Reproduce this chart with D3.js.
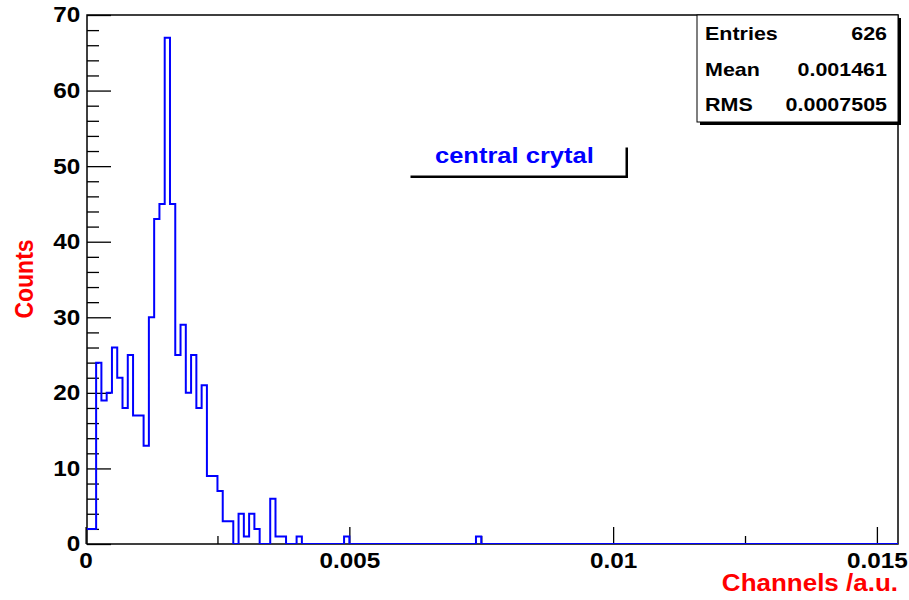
<!DOCTYPE html>
<html>
<head>
<meta charset="utf-8">
<script src="https://cdn.jsdelivr.net/npm/d3@7"></script>
<style>
    html, body { margin: 0; padding: 0; background: #fff; }
    text { font-family: 'Liberation Sans', Arial, Helvetica, sans-serif; font-weight: bold; }
</style>
</head>
<body>
<div id="chart"></div>
<script>
// histogram: bins of width 0.0001 starting at 0, counts
const binStart = 0;
const binWidth = 0.0001;
const counts = [
    2, 2, 24, 19, 20, 26, 22, 18, 25, 17,
    17, 13, 30, 43, 45, 67, 45, 25, 29, 20,
    25, 18, 21, 9, 9, 7, 3, 3, 0, 4,
    1, 4, 2, 0, 0, 6, 1, 1, 0, 0,
    1, 0, 0, 0, 0, 0, 0, 0, 0, 1,
    0, 0, 0, 0, 0, 0, 0, 0, 0, 0,
    0, 0, 0, 0, 0, 0, 0, 0, 0, 0,
    0, 0, 0, 0, 1
];
const xDomain = [0.000027, 0.0154];
const yDomain = [0, 70];
const xMajorTicks = [0, 0.005, 0.01, 0.015];
const xMinorTicks = [0.0025, 0.0075, 0.0125];
const xTickLabels = ['0', '0.005', '0.01', '0.015'];
const yMajorTicks = [0, 10, 20, 30, 40, 50, 60, 70];
const yMinorTicks = [2, 4, 6, 8, 12, 14, 16, 18, 22, 24, 26, 28, 32, 34, 36, 38, 42, 44, 46, 48, 52, 54, 56, 58, 62, 64, 66, 68];
const statLabels = ['Entries', 'Mean', 'RMS'];
const statValues = ['626', '0.001461', '0.0007505'];
const legendText = 'central crytal';
const xTitle = 'Channels /a.u.';
const yTitle = 'Counts';

const dimensions = {
    width: 909,
    height: 600,
    margin: {top: 15, right: 11, bottom: 56, left: 87}
};
dimensions.boundWidth = dimensions.width - dimensions.margin.left - dimensions.margin.right;
dimensions.boundHeight = dimensions.height - dimensions.margin.top - dimensions.margin.bottom;

const stretch = 1.13; // the picture's text is a bit wide

const root = d3.select('#chart')
    .append('svg')
    .attr('width', dimensions.width)
    .attr('height', dimensions.height)
    .style('display', 'block');

const svg = root.append('g')
    .attr('transform', `translate(${dimensions.margin.left},${dimensions.margin.top})`);

const x = d3.scaleLinear().domain(xDomain).range([0, dimensions.boundWidth]);
const y = d3.scaleLinear().domain(yDomain).range([dimensions.boundHeight, 0]);

// frame
svg.append('rect')
    .attr('width', dimensions.boundWidth)
    .attr('height', dimensions.boundHeight)
    .attr('fill', 'none')
    .attr('stroke', '#000')
    .attr('stroke-width', 1.5);

// y axis
const yAxisG = svg.append('g').attr('class', 'y-axis');
yAxisG.call(d3.axisLeft(y).tickValues(yMajorTicks).tickSizeInner(-24).tickSizeOuter(0).tickPadding(6).tickFormat(d3.format('d')));
yAxisG.append('g').call(d3.axisLeft(y).tickValues(yMinorTicks).tickSizeInner(-12).tickSizeOuter(0).tickFormat(''));
yAxisG.selectAll('.domain').remove();
yAxisG.selectAll('line').attr('stroke', '#000').attr('stroke-width', 1.3);
yAxisG.selectAll('text')
    .attr('font-size', 21.5)
    .attr('fill', '#000')
    .attr('transform', `scale(${stretch},1)`);

// x axis
const xAxisG = svg.append('g').attr('transform', `translate(0,${dimensions.boundHeight})`);
xAxisG.call(d3.axisBottom(x).tickValues(xMajorTicks).tickSizeInner(-17).tickSizeOuter(0).tickPadding(9)
    .tickFormat((d, i) => xTickLabels[i]));
xAxisG.append('g').call(d3.axisBottom(x).tickValues(xMinorTicks).tickSizeInner(-8).tickSizeOuter(0).tickFormat(''));
xAxisG.selectAll('.domain').remove();
xAxisG.selectAll('line').attr('stroke', '#000').attr('stroke-width', 1.3);
xAxisG.selectAll('text')
    .attr('font-size', 21.5)
    .attr('fill', '#000')
    .attr('transform', `scale(${stretch},1)`);

// histogram outline
const points = [[binStart, 0]];
counts.forEach((c, i) => {
    points.push([binStart + i * binWidth, c]);
    points.push([binStart + (i + 1) * binWidth, c]);
});
points.push([binStart + counts.length * binWidth, 0]);
points.push([xDomain[1], 0]);

root.append('defs').append('clipPath').attr('id', 'frame-clip')
    .append('rect')
    .attr('width', dimensions.boundWidth)
    .attr('height', dimensions.boundHeight + 2)
    .attr('y', -2);

svg.append('path')
    .datum(points)
    .attr('clip-path', 'url(#frame-clip)')
    .attr('fill', 'none')
    .attr('stroke', '#0000ff')
    .attr('stroke-width', 2)
    .attr('stroke-linejoin', 'miter')
    .attr('d', d3.line().x(d => x(d[0])).y(d => y(d[1])));

// text helper with horizontal stretch
const addText = (parent, str, px, py, opts = {}) => {
    const sx = opts.sx || stretch;
    return parent.append('text')
        .attr('transform', `translate(${px},${py}) scale(${sx},1)` + (opts.rotate ? ` rotate(${opts.rotate})` : ''))
        .attr('text-anchor', opts.anchor || 'start')
        .attr('font-size', opts.size || 21.5)
        .attr('fill', opts.fill || '#000')
        .text(str);
};

// axis titles
addText(root, xTitle, 898, 591, {anchor: 'end', size: 23, fill: '#ff0000'});
addText(root, yTitle, 33, 279, {anchor: 'middle', size: 23, fill: '#ff0000', rotate: -90});

// stats box
const statBox = {x0: 697, y0: 15, x1: 898, y1: 122};
root.append('rect')
    .attr('x', statBox.x0 + 3).attr('y', statBox.y0 + 3)
    .attr('width', statBox.x1 - statBox.x0).attr('height', statBox.y1 - statBox.y0)
    .attr('fill', '#000');
root.append('rect')
    .attr('x', statBox.x0).attr('y', statBox.y0)
    .attr('width', statBox.x1 - statBox.x0).attr('height', statBox.y1 - statBox.y0)
    .attr('fill', '#fff')
    .attr('stroke', '#000')
    .attr('stroke-width', 1);
const rowY = d3.scalePoint().domain(statLabels).range([40, 111]);
statLabels.forEach((label, i) => {
    addText(root, label, 705, rowY(label), {size: 19});
    addText(root, statValues[i], 887, rowY(label), {size: 19, anchor: 'end'});
});

// legend pave (shadow only)
const legendBox = {x0: 408, y0: 145, x1: 625.5, y1: 175.5};
root.append('rect')
    .attr('x', legendBox.x0 + 2.5).attr('y', legendBox.y0 + 2.5)
    .attr('width', legendBox.x1 - legendBox.x0).attr('height', legendBox.y1 - legendBox.y0)
    .attr('fill', '#000');
root.append('rect')
    .attr('x', legendBox.x0).attr('y', legendBox.y0)
    .attr('width', legendBox.x1 - legendBox.x0).attr('height', legendBox.y1 - legendBox.y0)
    .attr('fill', '#fff');
addText(root, legendText, 435, 163, {size: 22, fill: '#0000ff', sx: 1.16});
</script>
</body>
</html>
